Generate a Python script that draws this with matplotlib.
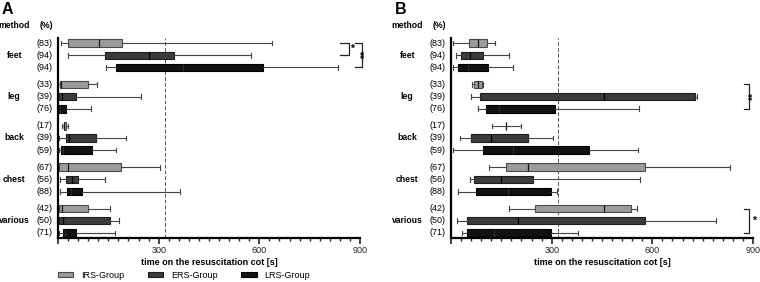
import matplotlib
matplotlib.use("Agg")
import matplotlib.pyplot as plt
from matplotlib.patches import Patch
from matplotlib.transforms import blended_transform_factory

plt.rcParams['font.family'] = ['Liberation Sans', 'DejaVu Sans']

methods = ["feet", "leg", "back", "chest", "various"]
groups = ["IRS-Group", "ERS-Group", "LRS-Group"]
percents = [["(83)", "(94)", "(94)"],
            ["(33)", "(39)", "(76)"],
            ["(17)", "(39)", "(59)"],
            ["(67)", "(56)", "(88)"],
            ["(42)", "(50)", "(71)"]]

# stats per method per group: [whislo, q1, med, q3, whishi] in seconds
stats_A = [
    [[9, 31, 121, 191, 639], [29, 139, 271, 345, 576], [142, 174, 374, 611, 834]],
    [[1, 6, 9, 89, 115], [1, 1, 13, 53, 246], [1, 1, 6, 25, 98]],
    [[11, 17, 19, 23, 30], [4, 23, 33, 112, 202], [4, 10, 16, 100, 173]],
    [[1, 3, 29, 189, 303], [7, 24, 41, 59, 139], [7, 26, 40, 72, 364]],
    [[1, 3, 13, 89, 155], [1, 4, 16, 155, 182], [4, 16, 21, 54, 169]],
]
stats_B = [
    [[7, 55, 81, 107, 130], [15, 29, 57, 94, 172], [7, 21, 50, 109, 186]],
    [[64, 70, 80, 92, 94], [59, 87, 455, 727, 732], [80, 105, 142, 310, 561]],
    [[121, 165, 165, 165, 208], [28, 61, 118, 230, 304], [7, 95, 185, 412, 556]],
    [[113, 163, 229, 579, 832], [57, 69, 149, 244, 564], [21, 75, 170, 297, 315]],
    [[174, 251, 455, 535, 554], [19, 49, 199, 578, 790], [34, 49, 127, 299, 379]],
]
cutoff = 320
brackets_A = [((0, 0), (0, 1), "*", 840, 866, 875), ((0, 0), (0, 2), "**", 885, 905, 918)]
brackets_B = [((1, 0), (1, 2), "**", 873, 888, 902), ((4, 0), (4, 2), "*", 873, 888, 902)]

fills = ["#9b9b9b", "#3b3b3b", "#111111"]
edges = ["#4a4a4a", "#1e1e1e", "#000000"]
meds = ["#1a1a1a", "#000000", "#2e2e2e"]

fig = plt.figure(figsize=(7.6, 2.82), dpi=100)
axA = fig.add_axes([58/760, 1-238/282, 302/760, 200/282])
axB = fig.add_axes([451/760, 1-238/282, 302/760, 200/282])

def pos(m, g):
    return m*3.4 + g

def draw(ax, stats, brackets, letter):
    for m in range(len(methods)):
        for g in range(3):
            s = stats[m][g]
            st = dict(whislo=s[0], q1=s[1], med=s[2], q3=s[3], whishi=s[4], fliers=[])
            ax.bxp([st], positions=[pos(m, g)], vert=False, widths=0.62,
                   patch_artist=True, showfliers=False,
                   boxprops=dict(facecolor=fills[g], edgecolor=edges[g], linewidth=0.8),
                   medianprops=dict(color=meds[g], linewidth=0.9),
                   whiskerprops=dict(color="#444444", linewidth=0.8),
                   capprops=dict(color="#444444", linewidth=0.8),
                   capwidths=0.38, manage_ticks=False)
    ax.axvline(cutoff, color="#555555", lw=0.7, ls=(0, (4, 2)), zorder=0)
    ax.set_xlim(0, 900)
    ax.set_ylim(pos(4, 2)+0.42, -0.42)
    ax.set_yticks([])
    for sp in ["top", "right"]:
        ax.spines[sp].set_visible(False)
    ax.spines["left"].set_linewidth(1.6)
    ax.spines["bottom"].set_linewidth(1.6)
    ax.set_xticks([0, 300, 600, 900])
    ax.set_xticklabels(["", "300", "600", "900"])
    ax.set_xticks(range(0, 901, 30), minor=True)
    ax.tick_params(axis="x", which="major", length=4, width=1.2, labelsize=6.5, pad=2, colors="#222222")
    ax.tick_params(axis="x", which="minor", length=2.5, width=1.0, colors="#222222")
    ax.set_xlabel("time on the resuscitation cot [s]", fontsize=6.5, fontweight="bold", labelpad=2)
    tr = blended_transform_factory(ax.transAxes, ax.transData)
    for m, name in enumerate(methods):
        ax.text(-0.145, pos(m, 1), name, transform=tr, ha="center", va="center",
                fontsize=6.2, fontweight="bold")
        for g in range(3):
            ax.text(-0.018, pos(m, g), percents[m][g], transform=tr, ha="right",
                    va="center", fontsize=6.5)
    ax.text(-0.145, 1.065, "method", transform=ax.transAxes, ha="center", va="center",
            fontsize=6.2, fontweight="bold")
    ax.text(-0.06, 1.065, "(%)", transform=ax.transAxes, ha="left", va="center",
            fontsize=6.2, fontweight="bold")
    ax.text(-0.186, 1.145, letter, transform=ax.transAxes, ha="left", va="center",
            fontsize=11.5, fontweight="bold")
    for (a, b, lab, x0, x1, xs) in brackets:
        y0 = pos(*a); y1 = pos(*b)
        ax.plot([x0, x1, x1, x0], [y0, y0, y1, y1], color="#222222", lw=0.9,
                clip_on=False)
        rot = 90 if lab == "**" else 0
        ax.text(xs, (y0+y1)/2, lab, ha="center", va="center", fontsize=7.5,
                rotation=rot, clip_on=False, fontweight="bold")

draw(axA, stats_A, brackets_A, "A")
draw(axB, stats_B, brackets_B, "B")

handles = [Patch(facecolor=fills[g], edgecolor=edges[g], linewidth=0.8) for g in range(3)]
fig.legend(handles, groups, loc="center", bbox_to_anchor=(184/760, 1-275/282), ncol=3,
           frameon=False, fontsize=6.5, handlelength=1.7, handleheight=0.55,
           columnspacing=2.6, handletextpad=0.9)

fig.savefig("out.png", dpi=100)
